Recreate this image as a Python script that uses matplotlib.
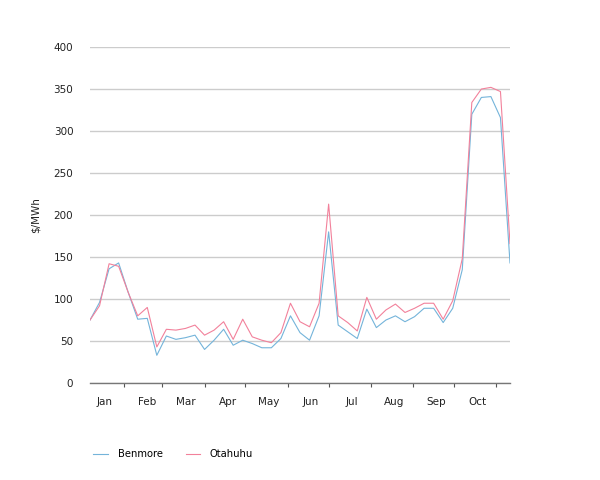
import matplotlib
matplotlib.use("Agg")
import matplotlib.pyplot as plt
import matplotlib.dates as mdates
import pandas as pd

# ---- data ----
weeks = pd.date_range("2007-01-07", periods=45, freq="7D")
benmore = [75, 96, 136, 143, 108, 76, 77, 33, 56, 52, 54, 57, 40, 51, 64, 45,
           51, 47, 42, 42, 53, 80, 60, 51, 80, 180, 69, 61, 53, 88, 66, 75,
           80, 73, 79, 89, 89, 72, 89, 135, 320, 340, 341, 316, 143]
otahuhu = [75, 92, 142, 139, 108, 80, 90, 43, 64, 63, 65, 69, 57, 63, 73, 52,
           76, 55, 51, 48, 60, 95, 73, 67, 95, 213, 80, 72, 62, 102, 76, 87,
           94, 84, 89, 95, 95, 76, 98, 148, 334, 350, 352, 347, 166]
month_labels = ["Jan", "Feb", "Mar", "Apr", "May", "Jun", "Jul", "Aug", "Sep", "Oct"]
y_ticks = [0, 50, 100, 150, 200, 250, 300, 350, 400]

plt.rcParams["font.family"] = ["DejaVu Sans"]
FS = 7.5

fig = plt.figure(figsize=(6, 4.8), dpi=100)
ax = fig.add_axes([0.15, 0.202, 0.70, 0.700])

ax.plot(weeks, benmore, color="#74b4da", lw=0.8, label="Benmore")
ax.plot(weeks, otahuhu, color="#f2819b", lw=0.8, label="Otahuhu")

ax.set_xlim(weeks[0], weeks[-1])
ax.set_ylim(0, 400)
ax.set_yticks(y_ticks)
ax.set_yticklabels([str(v) for v in y_ticks])
ax.yaxis.grid(True, color="#cccccc", lw=1)
ax.set_axisbelow(True)
ax.tick_params(axis="y", length=0, pad=12, labelsize=FS, colors="#222222")

# month labels (major) and month boundary ticks (minor)
label_pos = [pd.Timestamp(2007, i + 1, 18) for i in range(len(month_labels))]
ax.set_xticks(label_pos)
ax.set_xticklabels(month_labels)
ax.tick_params(axis="x", which="major", length=0, pad=10, labelsize=FS, colors="#222222")
ax.xaxis.set_minor_locator(mdates.MonthLocator())
ax.tick_params(axis="x", which="minor", length=3, width=0.8, color="#555555")

for s in ["top", "right", "left"]:
    ax.spines[s].set_visible(False)
ax.spines["bottom"].set_color("#777777")
ax.spines["bottom"].set_linewidth(1)

ax.set_ylabel("$/MWh", fontsize=FS, color="#222222", labelpad=9)

fig.legend(loc="lower left", bbox_to_anchor=(0.14, 0.025), ncol=2, frameon=False,
           fontsize=7.2, handlelength=1.45, columnspacing=2.3, handletextpad=1.0)

fig.savefig("out.png", dpi=100)
